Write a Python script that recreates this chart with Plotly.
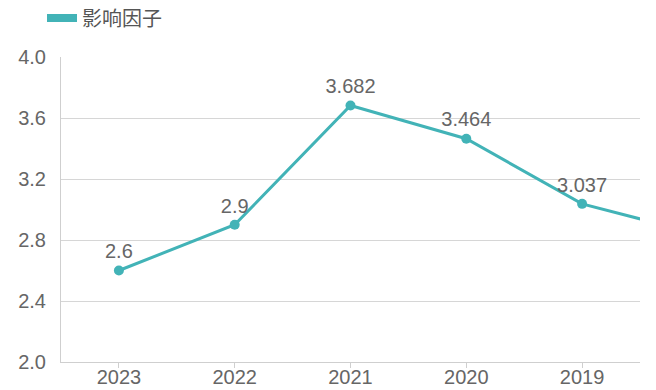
import plotly.graph_objects as go

years = ["2023", "2022", "2021", "2020", "2019", "2018"]
impact = [2.6, 2.9, 3.682, 3.464, 3.037, 2.84]
labels = ["2.6", "2.9", "3.682", "3.464", "3.037", ""]
y_ticks = [2.0, 2.4, 2.8, 3.2, 3.6, 4.0]
series_name = "影响因子"

teal = "#42b3b7"
grey_text = "#666666"
font_family = "Liberation Sans, Arial, Noto Sans CJK SC, sans-serif"

fig = go.Figure()
fig.add_trace(go.Scatter(
    x=years, y=impact, mode="lines+markers+text",
    text=labels, textposition="top center",
    textfont=dict(size=20, color=grey_text, family=font_family),
    line=dict(color=teal, width=3),
    marker=dict(color=teal, size=10),
    cliponaxis=True, showlegend=False, name=series_name,
))
# legend entry (thick bar)
fig.add_trace(go.Scatter(
    x=[None], y=[None], mode="lines", name=series_name,
    line=dict(color=teal, width=8), showlegend=True,
))

fig.update_layout(
    width=656, height=390,
    margin=dict(l=53, r=24, t=49, b=36, autoexpand=False),
    paper_bgcolor="white", plot_bgcolor="white",
    font=dict(family=font_family, color=grey_text, size=20),
    legend=dict(orientation="h", x=-0.0328, y=1.128, xanchor="left", yanchor="middle",
                font=dict(size=20, color="#555555", family="Noto Sans CJK SC"),
                itemwidth=30, bgcolor="rgba(0,0,0,0)"),
    xaxis=dict(
        type="category", categoryorder="array", categoryarray=years,
        range=[-0.5, 4.5], showgrid=False,
        showline=True, linecolor="#cfcfcf", linewidth=1,
        ticks="outside", ticklen=5, tickcolor="#cfcfcf",
        ticklabelstandoff=-8,
        tickfont=dict(size=20, color=grey_text), fixedrange=True,
    ),
    yaxis=dict(
        range=[2.0, 4.0], tickvals=y_ticks, ticktext=[f"{v:.1f}" for v in y_ticks],
        showgrid=True, gridcolor="#d6d6d6", gridwidth=1,
        showline=True, linecolor="#cfcfcf", linewidth=1,
        zeroline=False, ticks="", ticklabelstandoff=10,
        tickfont=dict(size=20, color=grey_text),
    ),
)

fig.write_html("out.html")
